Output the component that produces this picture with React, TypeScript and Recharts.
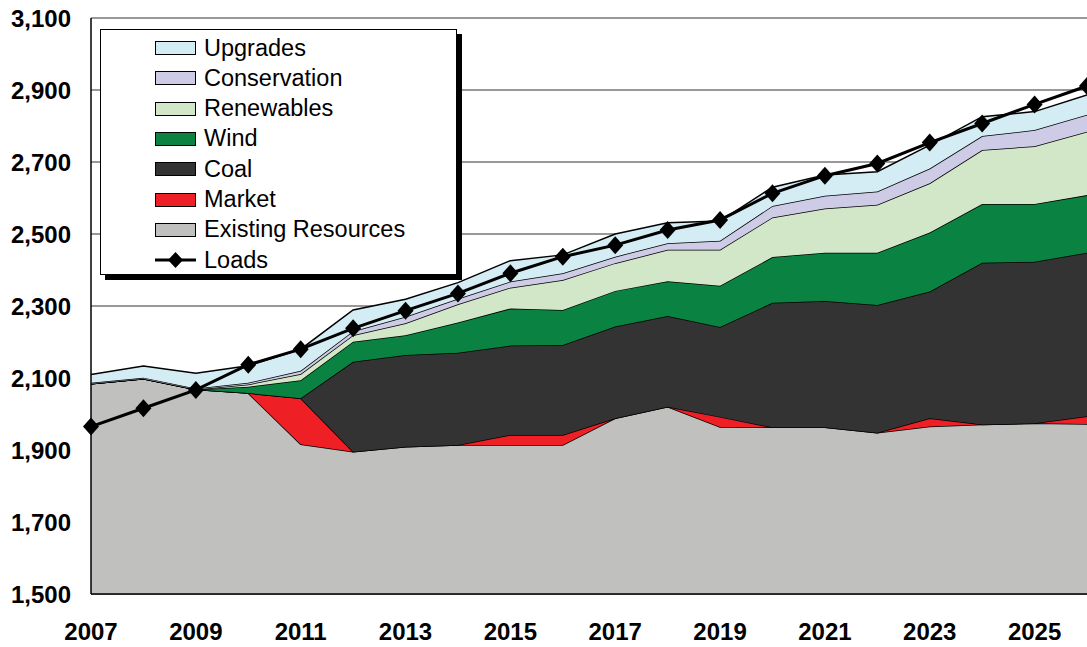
import React from 'react';
import {
  ComposedChart,
  Area,
  Line,
  XAxis,
  YAxis,
  CartesianGrid,
  Legend,
} from 'recharts';

const YEARS = [
  2007, 2008, 2009, 2010, 2011, 2012, 2013, 2014, 2015, 2016,
  2017, 2018, 2019, 2020, 2021, 2022, 2023, 2024, 2025, 2026,
];

const EXISTING = [2084, 2098, 2068, 2058, 1916, 1895, 1909, 1914, 1914, 1914, 1988, 2020, 1964, 1963, 1963, 1948, 1965, 1971, 1974, 1972];
const MARKET = [0, 0, 0, 0, 128, 0, 0, 0, 28, 28, 0, 0, 28, 0, 0, 0, 23, 0, 0, 22];
const COAL = [0, 0, 0, 0, 0, 250, 255, 256, 248, 250, 255, 252, 250, 346, 351, 355, 352, 449, 449, 454];
const WIND = [0, 0, 0, 18, 50, 56, 55, 84, 103, 97, 99, 97, 114, 127, 134, 145, 164, 163, 160, 160];
const RENEWABLES = [0, 0, 0, 6, 17, 18, 33, 51, 58, 83, 77, 87, 100, 110, 123, 133, 137, 150, 161, 176];
const CONSERVATION = [3, 3, 3, 5, 9, 11, 18, 15, 17, 19, 18, 18, 25, 32, 35, 37, 41, 39, 45, 47];
const UPGRADES = [23, 32, 42, 47, 60, 59, 49, 45, 58, 51, 63, 57, 55, 52, 58, 55, 65, 54, 51, 55];
const LOADS = [1965, 2016, 2067, 2137, 2180, 2238, 2287, 2335, 2391, 2437, 2469, 2511, 2539, 2613, 2662, 2696, 2754, 2807, 2860, 2911];

const X_TICKS = [2007, 2009, 2011, 2013, 2015, 2017, 2019, 2021, 2023, 2025];
const Y_TICKS = [1500, 1700, 1900, 2100, 2300, 2500, 2700, 2900, 3100];

// bottom of the stack first
const SERIES = [
  { key: 'existing', name: 'Existing Resources', color: '#C0C0BE' },
  { key: 'market', name: 'Market', color: '#EE2026' },
  { key: 'coal', name: 'Coal', color: '#333333' },
  { key: 'wind', name: 'Wind', color: '#0A8342' },
  { key: 'renewables', name: 'Renewables', color: '#D2E7C7' },
  { key: 'conservation', name: 'Conservation', color: '#CDCBE6' },
  { key: 'upgrades', name: 'Upgrades', color: '#D4EDF4' },
];

const data = YEARS.map((year, i) => ({
  year,
  existing: EXISTING[i],
  market: MARKET[i],
  coal: COAL[i],
  wind: WIND[i],
  renewables: RENEWABLES[i],
  conservation: CONSERVATION[i],
  upgrades: UPGRADES[i],
  loads: LOADS[i],
}));

const FONT = '"Liberation Sans", Arial, sans-serif';

function Diamond(props: any) {
  const { cx, cy, index } = props;
  if (cx == null || cy == null) return null;
  return (
    <path
      key={`d-${index}`}
      d={`M${cx},${cy - 9} L${cx + 8},${cy} L${cx},${cy + 9} L${cx - 8},${cy} Z`}
      fill="#000"
    />
  );
}

function LegendBox() {
  const rows = [...SERIES].reverse();
  return (
    <div
      style={{
        position: 'relative',
        width: 357,
        height: 246,
        background: '#fff',
        border: '1px solid #000',
        boxShadow: '5px 5px 0 #000',
        fontFamily: FONT,
        fontSize: 23.5,
        color: '#000',
        boxSizing: 'border-box',
      }}
    >
      {rows.map((s, i) => (
        <div
          key={s.key}
          style={{
            position: 'absolute',
            left: 54,
            top: 3 + i * 30.3,
            height: 30,
            display: 'flex',
            alignItems: 'center',
            whiteSpace: 'nowrap',
          }}
        >
          <div
            style={{
              width: 41,
              height: 14,
              background: s.color,
              border: '1px solid #000',
              boxSizing: 'border-box',
              marginRight: 8,
            }}
          />
          <span>{s.name}</span>
        </div>
      ))}
      <div
        style={{
          position: 'absolute',
          left: 54,
          top: 3 + 7 * 30.3,
          height: 30,
          display: 'flex',
          alignItems: 'center',
        }}
      >
        <svg width={41} height={20} style={{ marginRight: 8 }}>
          <line x1={0} y1={10} x2={41} y2={10} stroke="#000" strokeWidth={3} />
          <path d="M20.5,2 L28,10 L20.5,18 L13,10 Z" fill="#000" />
        </svg>
        <span>Loads</span>
      </div>
    </div>
  );
}

export default function App() {
  return (
    <div style={{ position: 'absolute', left: 0, top: 0 }}>
      <ComposedChart
        width={1087}
        height={647}
        data={data}
        margin={{ top: 18, right: 0, bottom: 0, left: 0 }}
      >
        <CartesianGrid vertical={false} stroke="#333" strokeWidth={1} />
        <XAxis
          dataKey="year"
          type="number"
          domain={[2007, 2026]}
          ticks={X_TICKS}
          height={53}
          tickLine={false}
          tickSize={6}
          tickMargin={23}
          axisLine={{ stroke: '#000', strokeWidth: 1.5 }}
          tick={{ fontFamily: FONT, fontSize: 24, fontWeight: 700, fill: '#000' }}
        />
        <YAxis
          domain={[1500, 3100]}
          ticks={Y_TICKS}
          width={91}
          tickLine={false}
          tickSize={6}
          tickMargin={14}
          allowDataOverflow
          axisLine={{ stroke: '#000', strokeWidth: 1.5 }}
          tickFormatter={(v: number) => v.toLocaleString('en-US')}
          tick={{ fontFamily: FONT, fontSize: 24, fontWeight: 700, fill: '#000' }}
        />
        {SERIES.map((s) => (
          <Area
            key={s.key}
            type="linear"
            dataKey={s.key}
            name={s.name}
            stackId="res"
            fill={s.color}
            fillOpacity={1}
            stroke="#000"
            strokeWidth={1.5}
            isAnimationActive={false}
          />
        ))}
        <Line
          type="linear"
          dataKey="loads"
          name="Loads"
          stroke="#000"
          strokeWidth={3}
          dot={<Diamond />}
          activeDot={false}
          isAnimationActive={false}
        />
        <Legend
          layout="vertical"
          align="center"
          verticalAlign="middle"
          content={() => <LegendBox />}
          wrapperStyle={{ left: 100, top: 29, width: 357, height: 246 }}
        />
      </ComposedChart>
    </div>
  );
}
